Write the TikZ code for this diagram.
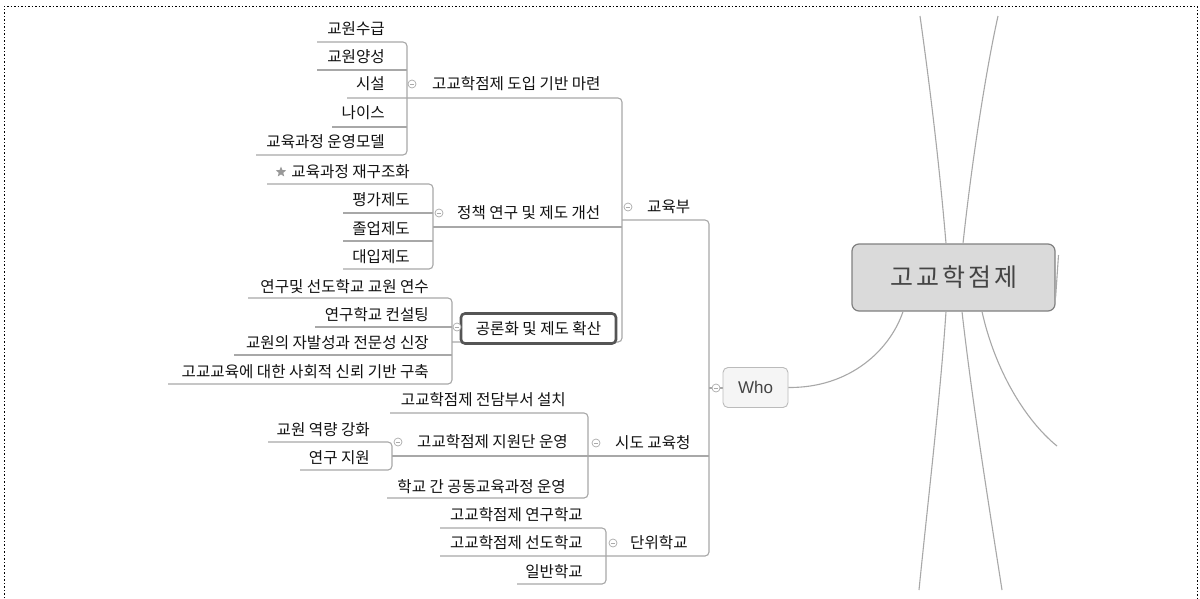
\documentclass[tikz,border=0pt]{standalone}
\usepackage{fontspec}
\newfontfamily\kr{Noto Sans CJK KR}
\newfontfamily\krbig[LetterSpace=12]{Noto Sans CJK KR}
\newfontfamily\whofont{Liberation Sans}
\usetikzlibrary{shapes.geometric}
\definecolor{ln}{HTML}{A8A8A8}
\definecolor{cbg}{HTML}{DADADA}
\definecolor{cbd}{HTML}{808080}
\definecolor{txt}{HTML}{111111}
\definecolor{ctxt}{HTML}{444444}
\definecolor{btn}{HTML}{AAAAAA}
\definecolor{whobd}{HTML}{BBBBBB}
\definecolor{whobg}{HTML}{F5F5F5}
\definecolor{selbd}{HTML}{555555}
\definecolor{stargray}{HTML}{999999}
\tikzset{
  conn/.style={draw=ln, line width=1.1pt},
  grp/.style={conn, rounded corners=4pt},
  leaf/.style={font=\kr\fontsize{15.6}{18}\selectfont, text=txt, inner sep=0pt, anchor=east},
  parent/.style={font=\kr\fontsize{15.6}{18}\selectfont, text=txt, inner sep=0pt, anchor=west},
  cbtn/.style={circle, draw=btn, fill=white, line width=0.7pt, minimum size=8pt, inner sep=0pt},
  cbtnminus/.style={draw=btn, line width=0.7pt},
  frame/.style={draw=black, line width=1pt, dash pattern=on 1.5pt off 2pt},
}
\newcommand\cbutton[3]{\node[cbtn] (#1) at (#2,#3) {};
  \draw[cbtnminus] ([xshift=-2.2pt]#1.center) -- ([xshift=2.2pt]#1.center);}
\begin{document}
\begin{tikzpicture}[x=1pt,y=-1pt]
\useasboundingbox (0,0) rectangle (1200,598);
\fill[white] (0,0) rectangle (1200,598);
\draw[frame] (4,598) -- (4,6) -- (1197,6) -- (1197,598);

% ---------- connectors (tree lines) ----------
\draw[grp] (317,42) -- (407,42) -- (407,155) -- (256,155);
\draw[conn] (317,70) -- (407,70);
\draw[conn] (332,127) -- (407,127);
\draw[grp] (347,98) -- (622,98) -- (622,342) -- (452,342);
\draw[grp] (267,184) -- (433,184) -- (433,269) -- (343,269);
\draw[conn] (343,213) -- (433,213);
\draw[conn] (343,241) -- (433,241);
\draw[conn] (433,227) -- (622,227);
\draw[grp] (248,298) -- (452,298) -- (452,384) -- (168,384);
\draw[conn] (315,327) -- (452,327);
\draw[conn] (234,355) -- (452,355);
\draw[grp] (622,220) -- (709,220) -- (709,556) -- (440,556);
\draw[conn] (709,388) -- (723,388);
\draw[grp] (390,413) -- (588,413) -- (588,498) -- (387,498);
\draw[conn] (392,456) -- (709,456);
\draw[grp] (268,442) -- (392,442) -- (392,470) -- (300,470);
\draw[grp] (440,528) -- (606,528) -- (606,584) -- (517,584);

% ---------- central topic ----------
\node[draw=cbd, fill=cbg, line width=1.2pt, rounded corners=7pt,
      minimum width=203pt, minimum height=67pt, inner sep=0pt,
      font=\krbig\fontsize{25}{28}\selectfont, text=ctxt] (cn) at (953.5,277.5) {고교학점제};

\coordinate (t1) at (920,16);
\coordinate (t2) at (998,16);
\coordinate (b1) at (919,590);
\coordinate (b2) at (1002,590);
\coordinate (b3) at (1057,446);
\coordinate (r1) at (1058.5,255);
\draw[conn] ([xshift=-7.5pt]cn.north) .. controls (939,160) and (929,80) .. (t1);
\draw[conn] ([xshift=9.5pt]cn.north) .. controls (972,160) and (986,70) .. (t2);
\draw[conn] ([xshift=-7.5pt]cn.south) .. controls (940,400) and (928,500) .. (b1);
\draw[conn] ([xshift=8.5pt]cn.south) .. controls (972,400) and (988,500) .. (b2);
\draw[conn] ([xshift=28.5pt]cn.south) .. controls (995,370) and (1025,420) .. (b3);
\draw[conn] ([yshift=-20pt]cn.east) -- (r1);

% ---------- Who ----------
\node[draw=whobd, fill=whobg, line width=0.9pt, rounded corners=5pt,
      minimum width=65pt, minimum height=40pt, inner sep=0pt,
      font=\whofont\fontsize{17}{20}\selectfont, text=ctxt] (who) at (755.5,387.5) {Who};
\draw[conn] (who.east) .. controls (850,388) and (890,350) .. ([xshift=-50.5pt]cn.south);
\cbutton{cwho}{716}{388}

% ---------- level 1 ----------
\node[parent] (edu) at (647,207) {교육부};
\cbutton{cedu}{628}{207}
\node[parent] (sido) at (615,443) {시도 교육청};
\cbutton{csido}{596}{443}
\node[parent] (unit) at (630,543) {단위학교};
\cbutton{cunit}{613}{543}

% ---------- level 2 ----------
\node[parent] (p1) at (432,84) {고교학점제 도입 기반 마련};
\cbutton{cp1}{412}{84}
\node[parent] (p2) at (457,213) {정책 연구 및 제도 개선};
\cbutton{cp2}{439}{213}
\node[draw=selbd, fill=white, line width=2.6pt, rounded corners=4pt,
      minimum width=155pt, minimum height=30pt, inner sep=0pt,
      font=\kr\fontsize{15.6}{18}\selectfont, text=txt] (p3) at (538.5,328.5) {공론화 및 제도 확산};
\cbutton{cp3}{457}{327}
\node[parent] (p4) at (417,442) {고교학점제 지원단 운영};
\cbutton{cp4}{398}{442}

% ---------- leaves ----------
\node[leaf] (a1) at (385,29) {교원수급};
\node[leaf] (a2) at (385,57) {교원양성};
\node[leaf] (a3) at (385,84) {시설};
\node[leaf] (a4) at (385,113) {나이스};
\node[leaf] (a5) at (385,142) {교육과정 운영모델};

\node[leaf] (b1n) at (410,172) {교육과정 재구조화};
\node[star, star points=5, star point ratio=2.3, fill=stargray, inner sep=0pt, minimum size=11pt] (star) at (281,172) {};
\node[leaf] (b2n) at (410,200) {평가제도};
\node[leaf] (b3n) at (410,229) {졸업제도};
\node[leaf] (b4n) at (410,257) {대입제도};

\node[leaf] (c1) at (429,287) {연구및 선도학교 교원 연수};
\node[leaf] (c2) at (429,315) {연구학교 컨설팅};
\node[leaf] (c3) at (429,343) {교원의 자발성과 전문성 신장};
\node[leaf] (c4) at (429,372) {고교교육에 대한 사회적 신뢰 기반 구축};

\node[leaf] (d1) at (566,400) {고교학점제 전담부서 설치};
\node[leaf] (d3) at (566,487) {학교 간 공동교육과정 운영};
\node[leaf] (e1) at (370,430) {교원 역량 강화};
\node[leaf] (e2) at (370,458) {연구 지원};

\node[leaf] (f1) at (583,515) {고교학점제 연구학교};
\node[leaf] (f2) at (583,543) {고교학점제 선도학교};
\node[leaf] (f3) at (583,572) {일반학교};
\end{tikzpicture}
\end{document}
